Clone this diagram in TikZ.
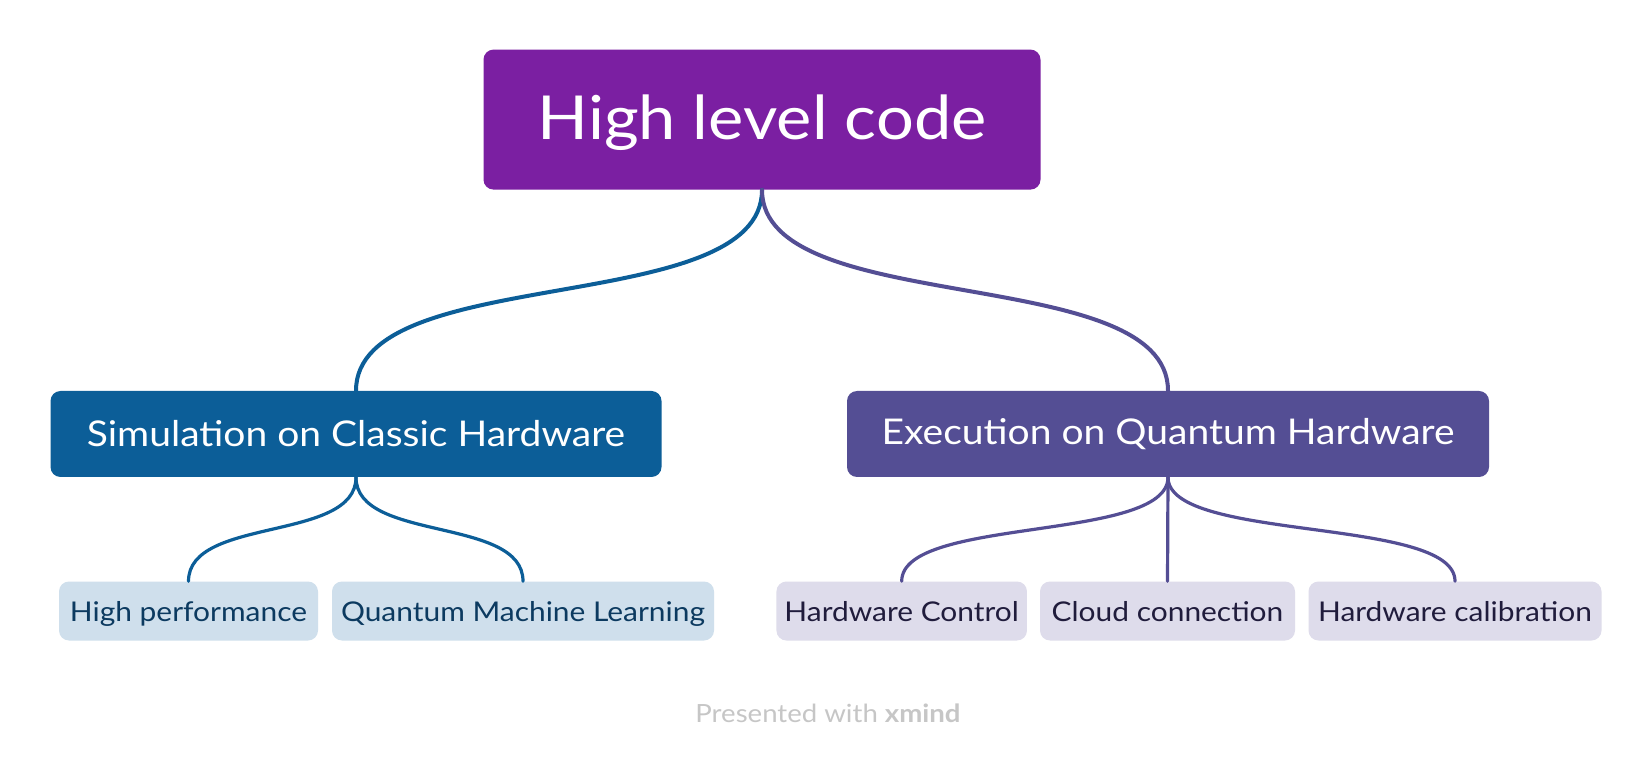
\documentclass[tikz,border=0pt]{standalone}
\usepackage{fontspec}
\setmainfont{Lato}[FakeStretch=1.1]
\definecolor{rootc}{HTML}{7B1FA2}
\definecolor{simc}{HTML}{0C5E98}
\definecolor{exec}{HTML}{544E94}
\definecolor{leafb}{HTML}{CFDFEC}
\definecolor{leafbt}{HTML}{0C3A60}
\definecolor{leafp}{HTML}{DEDCEB}
\definecolor{leafpt}{HTML}{201C3C}
\definecolor{footc}{HTML}{C6C6C6}
\begin{document}
\begin{tikzpicture}[x=0.75pt,y=-0.75pt,
  box/.style={rectangle,rounded corners=7.5pt,inner sep=0pt,anchor=center},
  rootbox/.style={box,fill=rootc,text=white,minimum width=557*0.75pt,minimum height=140*0.75pt,text depth=3pt,font=\fontsize{45.5}{52}\selectfont},
  midbox/.style={box,text=white,minimum height=86*0.75pt,font=\fontsize{26.6}{31}\selectfont},
  leafbox/.style={box,minimum height=59*0.75pt,text depth=0pt,font=\fontsize{20.4}{24}\selectfont},
  bleaf/.style={leafbox,fill=leafb,text=leafbt},
  pleaf/.style={leafbox,fill=leafp,text=leafpt},
  conn/.style={line width=3pt,line cap=round},
  subconn/.style={line width=2.4pt,line cap=round}]
\useasboundingbox[fill=white] (0,0) rectangle (1652,762);
\node[rootbox] (root) at (762,119.6) {High level code};
\node[midbox,fill=simc,minimum width=611*0.75pt] (sim) at (356,434) {Simulation on Classic Hardware};
\node[midbox,fill=exec,minimum width=642*0.75pt] (exe) at (1168,434) {Execution on Quantum Hardware};
\node[bleaf,minimum width=259*0.75pt] (hp) at (188.5,611) {High performance};
\node[bleaf,minimum width=382*0.75pt] (qml) at (523,611) {Quantum Machine Learning};
\node[pleaf,minimum width=250.5*0.75pt] (hc) at (901.7,611) {Hardware Control};
\node[pleaf,minimum width=255*0.75pt] (cc) at (1167.5,611) {Cloud connection};
\node[pleaf,minimum width=293*0.75pt] (cal) at (1455,611) {Hardware calibration};
\draw[conn,simc] (root.south) .. controls +(0,129) and +(0,-129) .. (sim.north);
\draw[conn,exec] (root.south) .. controls +(0,129) and +(0,-129) .. (exe.north);
\draw[subconn,simc] (sim.south) .. controls +(0,65) and +(0,-65) .. (hp.north);
\draw[subconn,simc] (sim.south) .. controls +(0,65) and +(0,-65) .. (qml.north);
\draw[subconn,exec] (exe.south) .. controls +(0,65) and +(0,-65) .. (hc.north);
\draw[subconn,exec] (exe.south) -- (cc.north);
\draw[subconn,exec] (exe.south) .. controls +(0,65) and +(0,-65) .. (cal.north);
\node[text=footc,font=\fontsize{18.8}{22}\selectfont,inner sep=0pt] (foot) at (828,713) {Presented with \textbf{xmind}};
\end{tikzpicture}
\end{document}
